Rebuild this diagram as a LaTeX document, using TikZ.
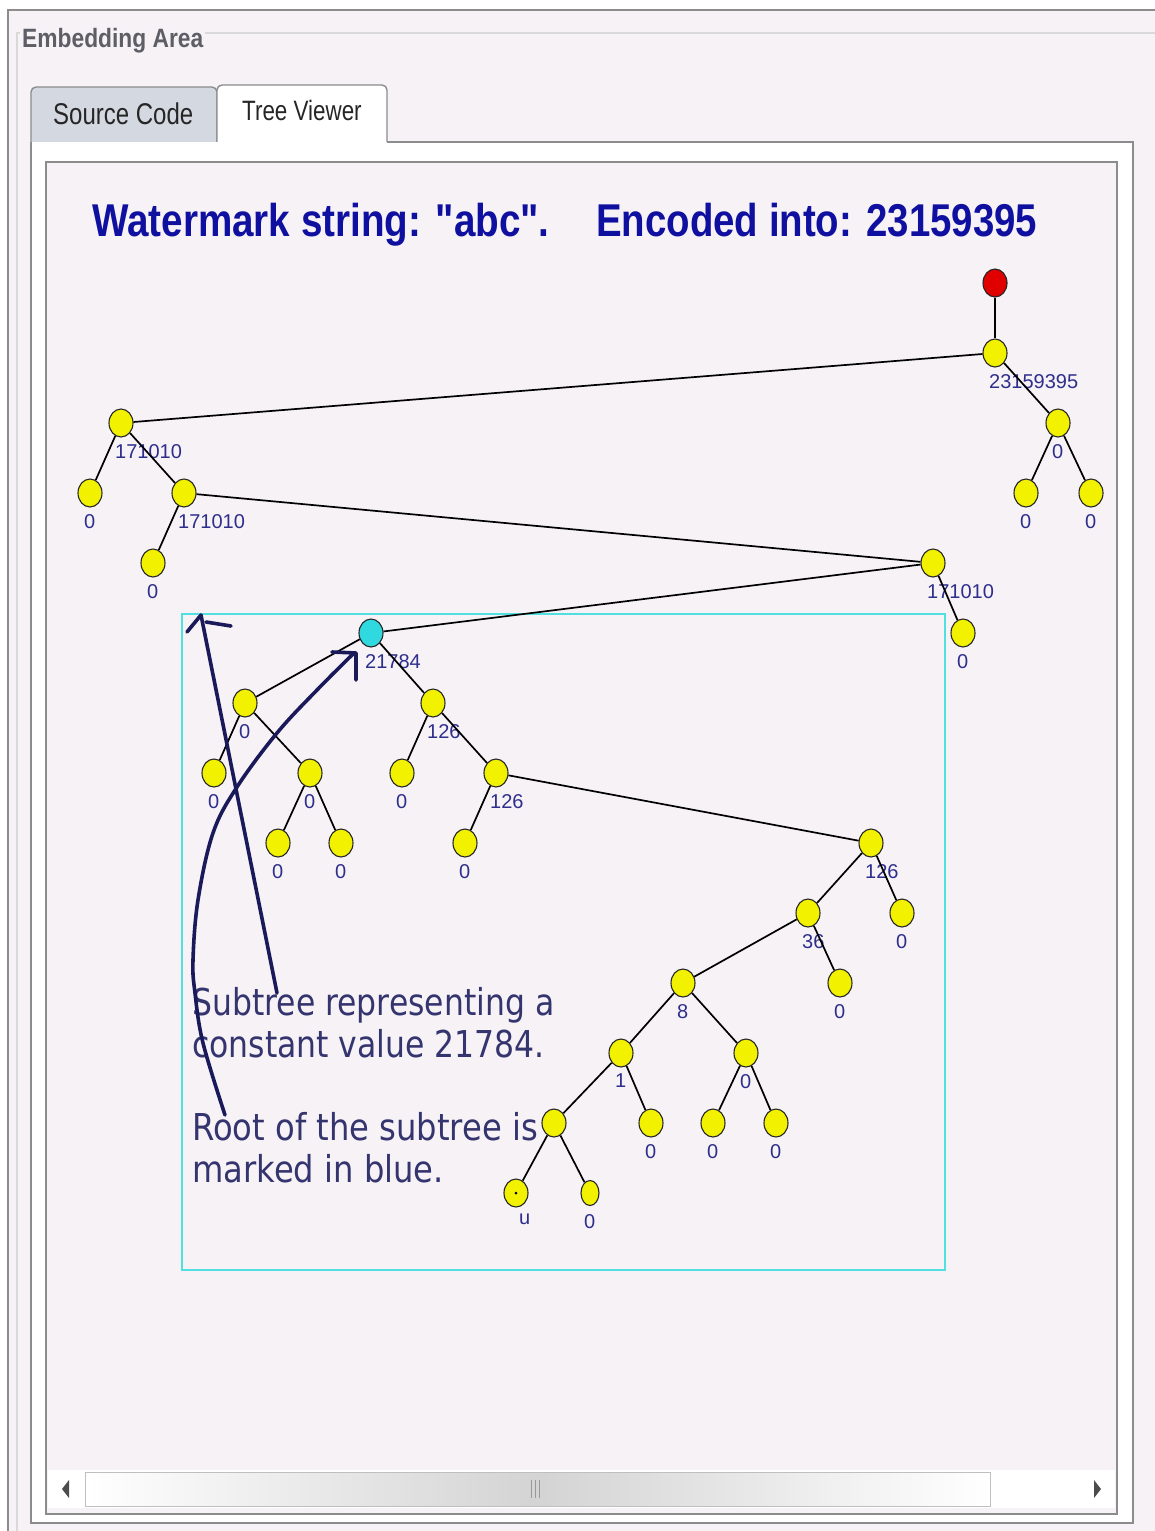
\documentclass[tikz,border=0pt]{standalone}
\usepackage{fontspec}
\setmainfont{Liberation Sans}
\newfontfamily\titlefont[Ligatures=TeXOff]{Liberation Sans}
\newfontfamily\dvs{DejaVu Sans}
\usetikzlibrary{shapes.geometric}
\definecolor{bgc}{HTML}{F6F2F6}
\definecolor{framec}{HTML}{8C8C8C}
\definecolor{tabgrey}{HTML}{D4D8E0}
\definecolor{titlec}{HTML}{1010A0}
\definecolor{lblc}{HTML}{2E2E8C}
\definecolor{annc}{HTML}{34346E}
\definecolor{arrc}{HTML}{1A1A5A}
\definecolor{nodey}{HTML}{F2F200}
\definecolor{noder}{HTML}{E00000}
\definecolor{nodec}{HTML}{30D8E0}
\definecolor{boxc}{HTML}{50E0E0}
\definecolor{greytext}{HTML}{5E5E66}
\newcommand{\tn}[5]{%
  \node[tnode,#5] (#1) at (#2,#3) {};
  \node[lbl] (#1l) at (#2-6,#3+21) {#4};
}
\begin{document}
\begin{tikzpicture}[x=1pt,y=-1pt,
  tnode/.style={ellipse,draw=black!85,line width=1.1pt,fill=nodey,minimum width=24pt,minimum height=28pt,inner sep=0pt},
  lbl/.style={anchor=north west,inner sep=0pt,text=lblc,font=\fontsize{20}{20}\selectfont},
  edge/.style={draw=black,line width=1.7pt},
  annot/.style={draw=arrc,line width=3.6pt,line cap=round,line join=round},
  anntext/.style={anchor=base west,inner sep=0pt,text=annc,font=\dvs\fontsize{37}{37}\selectfont},
  framel/.style={draw=framec,line width=1.4pt}]
\useasboundingbox (0,0) rectangle (1155,1531);
\fill[bgc] (0,0) rectangle (1155,1531);
% outer frame
\fill[white] (0,0) rectangle (1155,10);
\fill[white] (0,0) rectangle (8,1531);
\draw[framel] (8,1531) -- (8,10) -- (1155,10);
\draw[draw=black!15,line width=1.2pt] (17,1531) -- (17,33) -- (20,33);
\draw[draw=black!15,line width=1.2pt] (205,33) -- (1155,33);
\node[anchor=base west,inner sep=0pt,text=greytext] (emb) at (22,47) {\scalebox{0.86}[1]{\fontsize{26.5}{26.5}\selectfont\bfseries Embedding Area}};
% tabs
\draw[framel,fill=tabgrey,rounded corners=5pt] (31,142) -- (31,87) -- (217,87) [sharp corners] -- (217,142);
\draw[framel,fill=white,rounded corners=5pt] (217,142) -- (217,85) -- (387,85) [sharp corners] -- (387,142);
\node[anchor=base west,inner sep=0pt,text=black!85] (src) at (53,124) {\scalebox{0.8}[1]{\fontsize{30}{30}\selectfont Source Code}};
\node[anchor=base west,inner sep=0pt,text=black!85] (tree) at (242,120) {\scalebox{0.8}[1]{\fontsize{28}{28}\selectfont Tree Viewer}};
% tab panel
\fill[white] (31,142) rectangle (1133,1523);
\draw[framel] (31,142) -- (31,1523) -- (1133,1523) -- (1133,142) -- (387,142);
% inner scroll pane
\draw[framel,fill=bgc] (46,162) rectangle (1117,1514);
% scrollbar
\fill[white] (48,1470) rectangle (1115,1508);
\shade[left color=white,right color=white,middle color=black!17] (85,1472) rectangle (990,1506);
\draw[draw=black!25,line width=1pt] (85,1472) rectangle (990,1506);
\draw[draw=black!40,line width=0.8pt] (531,1480) -- (531,1498) (535,1480) -- (535,1498) (539,1480) -- (539,1498);
\fill[black!70] (62,1489) -- (69,1480) -- (69,1498) -- cycle;
\fill[black!70] (1101,1489) -- (1094,1480) -- (1094,1498) -- cycle;
% title
\node[anchor=base west,inner sep=0pt,text=titlec] (t1) at (92,236) {\scalebox{0.84}[1]{\titlefont\fontsize{46}{46}\selectfont\bfseries Watermark string: "abc".}};
\node[anchor=base west,inner sep=0pt,text=titlec] (t2) at (596,236) {\scalebox{0.835}[1]{\titlefont\fontsize{46}{46}\selectfont\bfseries Encoded into: 23159395}};
% cyan subtree box
\draw[draw=boxc,line width=2.4pt] (182,614) rectangle (945,1270);
% tree nodes
\tn{R}{995}{283}{}{fill=noder}
\tn{A}{995}{353}{23159395}{}
\tn{B}{1058}{423}{0}{}
\tn{B1}{1026}{493}{0}{}
\tn{B2}{1091}{493}{0}{}
\tn{C}{121}{423}{171010}{}
\tn{C1}{90}{493}{0}{}
\tn{D}{184}{493}{171010}{}
\tn{D1}{153}{563}{0}{}
\tn{E}{933}{563}{171010}{}
\tn{F}{371}{633}{21784}{fill=nodec}
\tn{E2}{963}{633}{0}{}
\tn{G}{245}{703}{0}{}
\tn{H}{433}{703}{126}{}
\tn{G1}{214}{773}{0}{}
\tn{I}{310}{773}{0}{}
\tn{I1}{278}{843}{0}{}
\tn{I2}{341}{843}{0}{}
\tn{H1}{402}{773}{0}{}
\tn{J}{496}{773}{126}{}
\tn{J1}{465}{843}{0}{}
\tn{K}{871}{843}{126}{}
\tn{L}{808}{913}{36}{}
\tn{K2}{902}{913}{0}{}
\tn{M}{683}{983}{8}{}
\tn{L2}{840}{983}{0}{}
\tn{N}{621}{1053}{1}{}
\tn{O}{746}{1053}{0}{}
\tn{P}{554}{1123}{}{}
\tn{N2}{651}{1123}{0}{}
\tn{O1}{713}{1123}{0}{}
\tn{O2}{776}{1123}{0}{}
\node[tnode] (P1) at (516,1193) {};
\node[lbl] (P1l) at (519,1214) {u};
\tn{P2}{590}{1193}{0}{minimum width=18pt,minimum height=25pt}
\fill[black] (P1.center) circle (1.5pt);
% edges
\foreach \a/\b in {R/A,A/C,A/B,B/B1,B/B2,C/C1,C/D,D/D1,D/E,E/F,E/E2,F/G,F/H,G/G1,G/I,I/I1,I/I2,H/H1,H/J,J/J1,J/K,K/L,K/K2,L/M,L/L2,M/N,M/O,N/P,N/N2,O/O1,O/O2,P/P1,P/P2}
  \draw[edge] (\a) -- (\b);
% annotation text
\node[anntext] (s1) at (192,1015) {\scalebox{0.85}[1]{Subtree representing a}};
\node[anntext] (s2) at (192,1057) {\scalebox{0.85}[1]{constant value 21784.}};
\node[anntext] (s3) at (192,1140) {\scalebox{0.87}[1]{Root of the subtree is}};
\node[anntext] (s4) at (192,1182) {\scalebox{0.87}[1]{marked in blue.}};
% annotation arrows
\coordinate (a1s) at (277,993);
\coordinate (a1e) at (201,615);
\draw[annot] (a1s) -- (a1e);
\draw[annot] (187,632) -- (a1e);
\draw[annot] (206,622) -- (231,626);
\coordinate (a2s) at (225,1115);
\coordinate (a2e) at (353,654);
\draw[annot] plot[smooth,tension=0.6] coordinates {(a2s) (203,1043) (195,993) (193,960) (198,900) (213,833) (237,787) (277,733) (317,690) (a2e)};
\draw[annot] (332,652) -- (356,653) -- (356,680);
\end{tikzpicture}
\end{document}
